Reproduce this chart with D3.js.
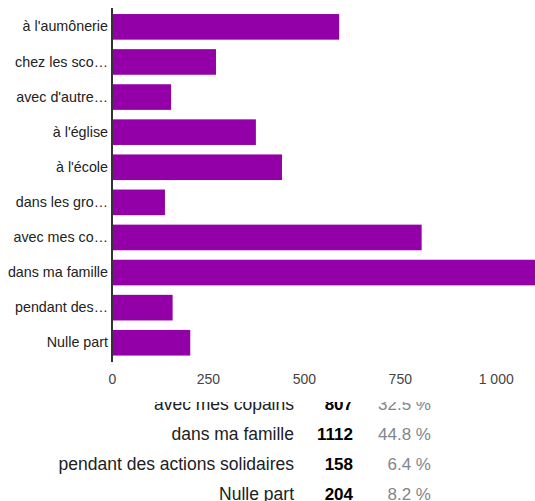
<!DOCTYPE html>
<html>
<head>
<meta charset="utf-8">
<script src="https://cdn.jsdelivr.net/npm/d3@7"></script>
<style>
  html, body { margin: 0; padding: 0; background: #fff; }
  svg { display: block; font-family: "Liberation Sans", Arial, sans-serif; }
</style>
</head>
<body>
<svg id="chart" width="535" height="501"></svg>
<script>
// ---- data ----
const categories = [
  "à l'aumônerie",
  "chez les scouts",
  "avec d'autres jeunes",
  "à l'église",
  "à l'école",
  "dans les groupes de jeunes",
  "avec mes copains",
  "dans ma famille",
  "pendant des actions solidaires",
  "Nulle part"
];
const axisLabels = [
  "à l'aumônerie",
  "chez les sco…",
  "avec d'autre…",
  "à l'église",
  "à l'école",
  "dans les gro…",
  "avec mes co…",
  "dans ma famille",
  "pendant des…",
  "Nulle part"
];
const counts = [592, 271, 154, 375, 443, 138, 807, 1112, 158, 204];
const percents = ["23.8 %", "10.9 %", "6.2 %", "15.1 %", "17.8 %", "5.6 %", "32.5 %", "44.8 %", "6.4 %", "8.2 %"];
const tickValues = [0, 250, 500, 750, 1000];
const tickLabels = ["0", "250", "500", "750", "1 000"];

// ---- drawing ----
const svg = d3.select("#chart");
const barColor = "#9400a8";

const x = d3.scaleLinear().domain([0, 1000]).range([112, 495.7]);
const y = d3.scaleBand().domain(categories).range([9.3, 360.3])
  .paddingInner(0.27).paddingOuter(0.135);

// summary table underneath (its upper rows are hidden behind the chart area)
const clipTop = 402;
svg.append("defs").append("clipPath").attr("id", "tableClip")
  .append("rect").attr("x", 0).attr("y", clipTop).attr("width", 535).attr("height", 120);

const rowY = d3.scaleLinear().domain([0, 1]).range([230, 260]);
const visibleRows = d3.range(categories.length).filter(i => rowY(i) + 6 >= clipTop);
const table = svg.append("g").attr("clip-path", "url(#tableClip)");
const rows = table.selectAll("g.row").data(visibleRows).join("g")
  .attr("class", "row")
  .attr("transform", i => `translate(0,${rowY(i)})`);
rows.append("text").attr("x", 294).attr("text-anchor", "end")
  .style("font-size", "17.5px").attr("fill", "#202124").text(i => categories[i]);
rows.append("text").attr("x", 353).attr("text-anchor", "end")
  .style("font-size", "17px").style("font-weight", "bold").attr("fill", "#000")
  .text(i => counts[i]);
rows.append("text").attr("x", 431).attr("text-anchor", "end")
  .style("font-size", "17px").attr("fill", "#80868b")
  .text(i => percents[i]);

// bars
svg.append("g").selectAll("rect").data(categories).join("rect")
  .attr("x", x(0))
  .attr("y", d => y(d))
  .attr("width", (d, i) => x(counts[i]) - x(0))
  .attr("height", y.bandwidth())
  .attr("fill", barColor);

// category labels
const yAxis = d3.axisLeft(y).tickSize(0).tickPadding(4)
  .tickFormat((d, i) => axisLabels[i]);
const gy = svg.append("g").attr("transform", `translate(${x(0)},0)`).call(yAxis);
gy.select(".domain").remove();
gy.selectAll("text").style("font-size", "14.3px").attr("fill", "#222")
  .style("font-family", "'Liberation Sans', Arial, sans-serif");

// baseline
svg.append("line").attr("x1", x(0)).attr("x2", x(0)).attr("y1", 8).attr("y2", 362)
  .attr("stroke", "#333").attr("stroke-width", 2);

// x tick labels
const xAxis = d3.axisBottom(x).tickValues(tickValues).tickSize(0).tickPadding(0)
  .tickFormat((d, i) => tickLabels[i]);
const gx = svg.append("g").attr("transform", "translate(0,374)").call(xAxis);
gx.select(".domain").remove();
gx.selectAll("text").style("font-size", "14px").attr("fill", "#444")
  .style("font-family", "'Liberation Sans', Arial, sans-serif");
</script>
</body>
</html>
